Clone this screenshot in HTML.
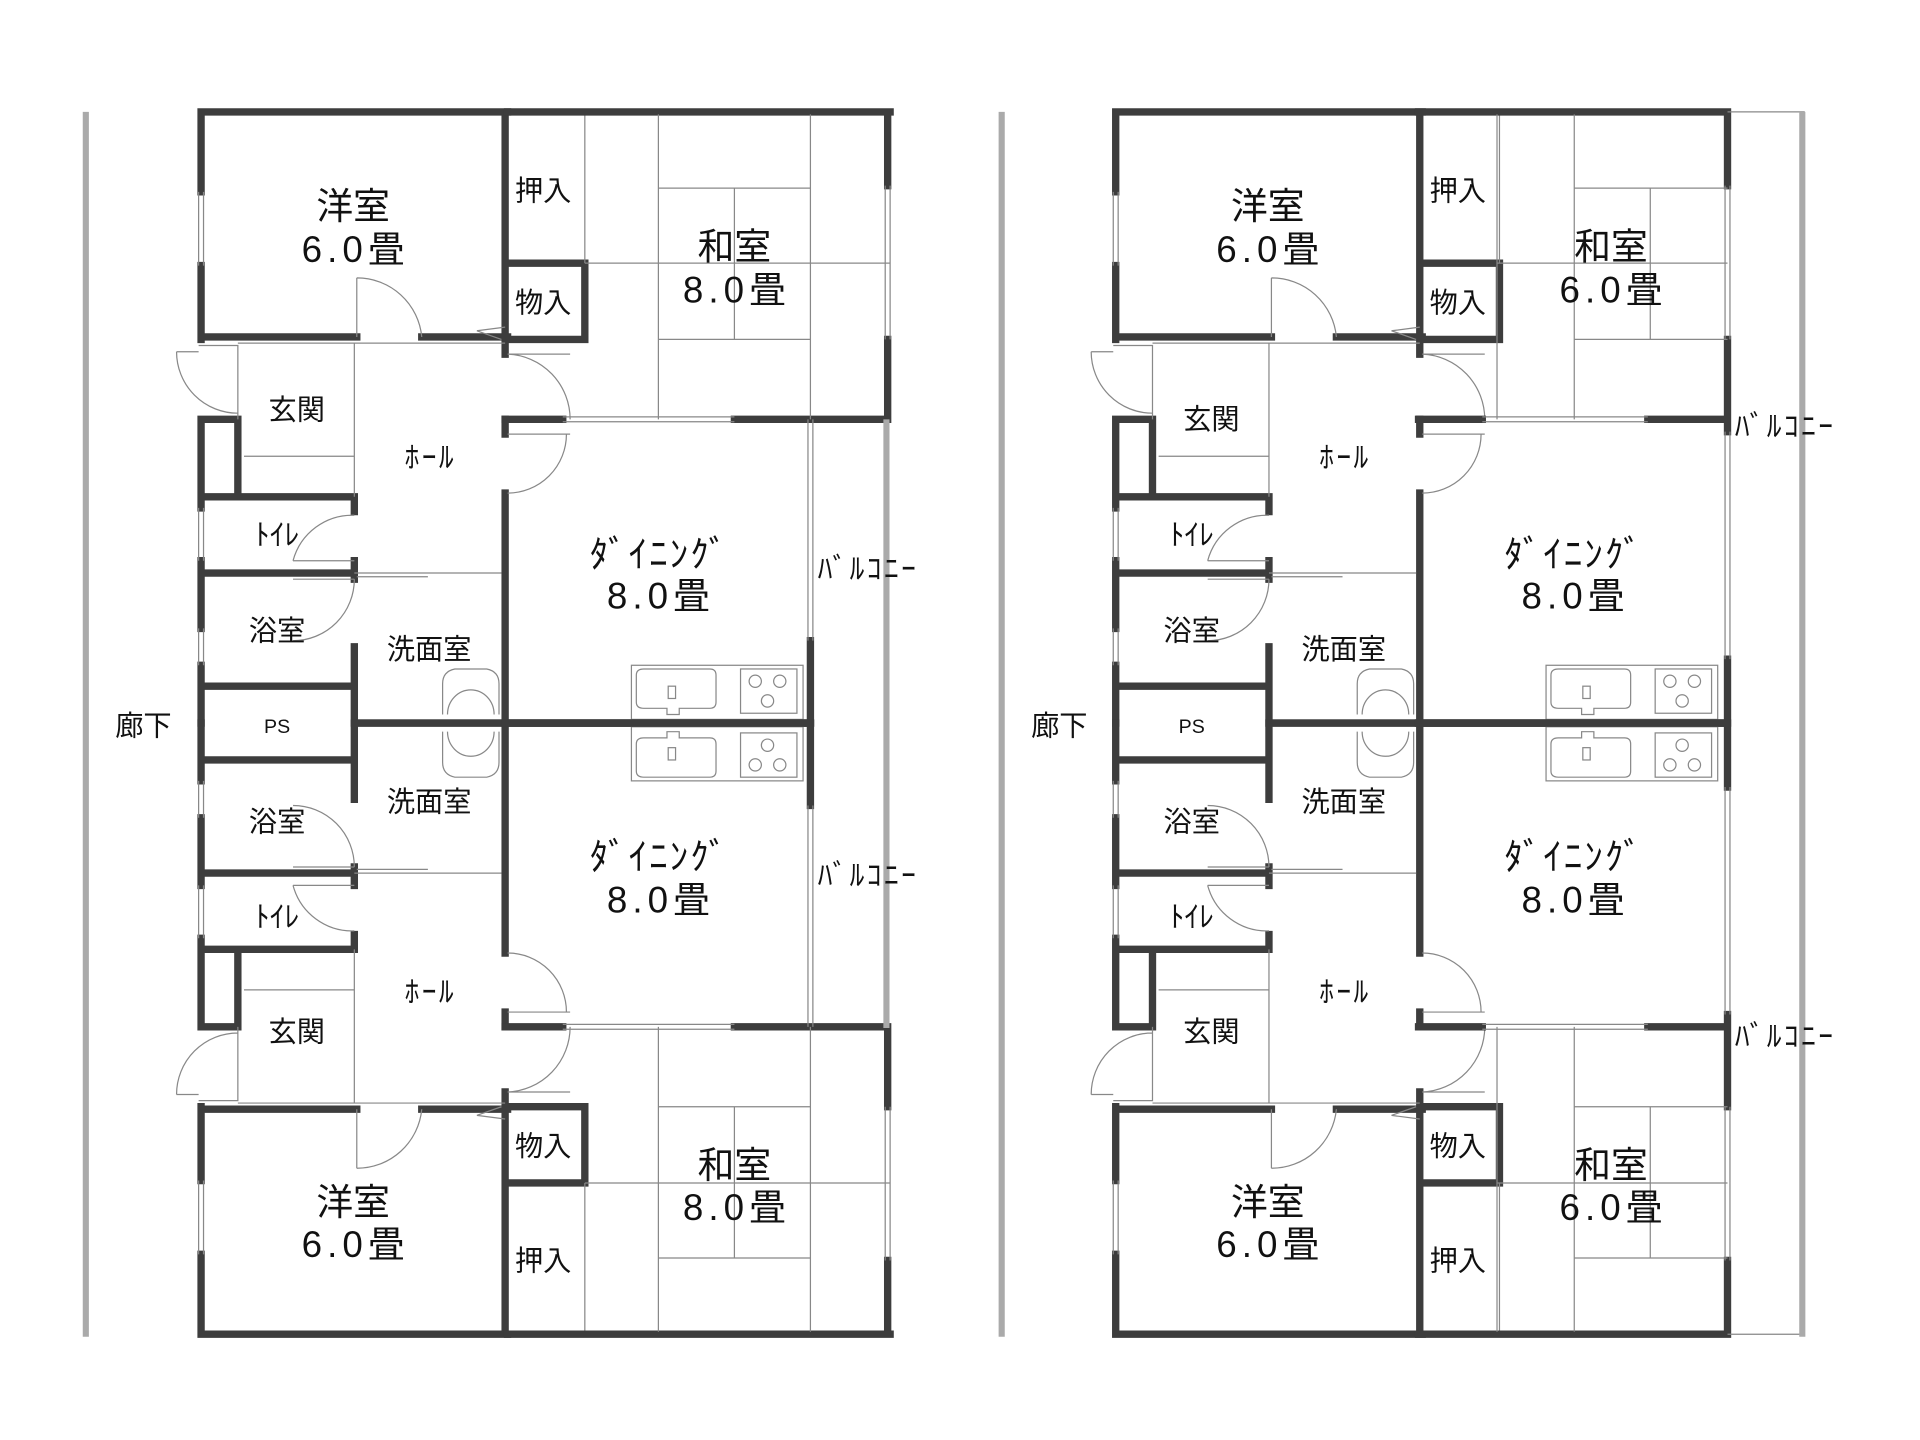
<!DOCTYPE html>
<html><head><meta charset="utf-8"><style>
html,body{margin:0;padding:0;background:#fff;}
svg{display:block;}
text{font-family:"Liberation Sans","Noto Sans CJK JP",sans-serif;fill:#111;text-anchor:middle;}
.w{stroke:#3d3d3d;stroke-width:6;fill:none;stroke-linecap:square;}
.t{stroke:#888;stroke-width:1;fill:none;}
.g{stroke:#aaa;stroke-width:5;fill:none;}
</style></head><body>
<svg width="1920" height="1440" viewBox="1 -1 1566 1171" preserveAspectRatio="none" xmlns="http://www.w3.org/2000/svg">
<defs>
<g id="half">
  <path class="w" d="M165 90 H415 M165 90 V155 M165 215 V275 M165 273 H292 M345 273 H415
    M413 90 V287 M413 340 V352 M413 400 V587
    M413 213 H478 V275 H413
    M165 340 V400 M165 340 H195 V398 M165 403 H290 V415 M290 455 V470
    M165 403 V412 M165 455 V510 M165 540 V587 M165 465 H290 M290 525 V587 M165 557 H290 M290 587 H662"/>
  <path class="t" d="M163 155 V215 M167 155 V215 M163 412 V455 M167 412 V455 M163 510 V540 M167 510 V540
    M292 273 V225 M292 225 A53 53 0 0 1 345 273
    M415 287 H466 M415 287 A53 53 0 0 1 466 340 M415 352 H466 M415 400 A48 48 0 0 0 463 352
    M163 280 H195 V340 M145 285 A50 50 0 0 0 195 335 M145 285 H163
    M200 370 H290 M290 278 V403 M195 278 H413
    M290 418 A50 50 0 0 0 240 455 M240 455 H290
    M290 470 A50 50 0 0 1 240 520 M240 470 H290
    M290 465 H410 M292 468 H350
    M413 265 L390 268 L410 275
    M478 92 V213"/>
  <path class="t" d="M362 580 V555 Q362 545 372 543 H398 Q408 545 408 555 V580 M366 580 A19 20 0 0 1 404 580"/>
  <rect class="t" x="516" y="540" width="140" height="44"/>
  <path class="t" d="M520 548 Q520 543 526 543 H580 Q585 543 585 548 V570 Q585 575 580 575 H555 V580 H545 V575 H526 Q520 575 520 570 Z"/>
  <rect class="t" x="546" y="557" width="6" height="10"/>
  <rect class="t" x="605" y="543" width="46" height="36"/>
  <circle class="t" cx="617" cy="553" r="5"/><circle class="t" cx="637" cy="553" r="5"/><circle class="t" cx="627" cy="569" r="5"/>
</g>
<g id="washiL">
  <path class="w" d="M415 90 H727 M725 90 V150 M725 275 V340 M413 340 H460 M600 340 H725 M662 520 V587 M662 587 H413"/>
  <path class="t" d="M538 92 V340 M662 92 V340 M538 152 H662 M478 213 H727 M538 275 H662 M600 152 V275 M723 150 V275 M727 150 V275
    M460 338 H600 M460 342 H600 M660 340 V520 M664 340 V520"/>
</g>
<g id="washiR">
  <path class="w" d="M1158 90 H1410 M1410 90 V150 M1410 275 V350 M1410 535 V587 M1158 340 H1210 M1345 340 H1410 M1410 587 H1158"/>
  <path class="t" d="M1222 92 V340 M1285 92 V340 M1285 152 H1410 M1222 213 H1410 M1285 275 H1410 M1347 152 V275 M1408 150 V275 M1412 150 V275
    M1210 338 H1345 M1210 342 H1345 M1408 350 V535 M1412 350 V535 M1410 90 H1473"/>
</g>
</defs>

<line class="g" x1="71" y1="90" x2="71" y2="1086"/>
<line class="g" x1="818" y1="90" x2="818" y2="1086"/>
<use href="#half"/>
<use href="#half" transform="translate(0,1174) scale(1,-1)"/>
<use href="#washiL"/>
<use href="#washiL" transform="translate(0,1174) scale(1,-1)"/>
<line class="g" x1="724" y1="340" x2="724" y2="835"/>
<use href="#half" transform="translate(746,0)"/>
<use href="#half" transform="translate(746,1174) scale(1,-1)"/>
<use href="#washiR"/>
<use href="#washiR" transform="translate(0,1174) scale(1,-1)"/>
<line class="g" x1="1471" y1="90" x2="1471" y2="1086"/>

<g font-size="30">
<text x="289" y="177">洋室</text><text x="289" y="212" textLength="84">6.0畳</text>
<text x="600" y="210">和室</text><text x="600" y="245" textLength="84">8.0畳</text>
<text x="538" y="460" font-size="30" textLength="112">ﾀﾞｲﾆﾝｸﾞ</text><text x="538" y="494" textLength="84">8.0畳</text>
<text x="538" y="706" font-size="30" textLength="112">ﾀﾞｲﾆﾝｸﾞ</text><text x="538" y="741" textLength="84">8.0畳</text>
<text x="600" y="957">和室</text><text x="600" y="991" textLength="84">8.0畳</text>
<text x="289" y="987">洋室</text><text x="289" y="1021" textLength="84">6.0畳</text>
<text x="1035" y="177">洋室</text><text x="1035" y="212" textLength="84">6.0畳</text>
<text x="1315" y="210">和室</text><text x="1315" y="245" textLength="84">6.0畳</text>
<text x="1284" y="460" font-size="30" textLength="112">ﾀﾞｲﾆﾝｸﾞ</text><text x="1284" y="494" textLength="84">8.0畳</text>
<text x="1284" y="706" font-size="30" textLength="112">ﾀﾞｲﾆﾝｸﾞ</text><text x="1284" y="741" textLength="84">8.0畳</text>
<text x="1315" y="957">和室</text><text x="1315" y="991" textLength="84">6.0畳</text>
<text x="1035" y="987">洋室</text><text x="1035" y="1021" textLength="84">6.0畳</text>
</g>
<g font-size="23">
<text x="444" y="162">押入</text><text x="444" y="253">物入</text>
<text x="444" y="939">物入</text><text x="444" y="1032">押入</text>
<text x="243" y="340">玄関</text><text x="243" y="846">玄関</text>
<text x="227" y="520">浴室</text><text x="227" y="675">浴室</text>
<text x="351" y="535">洗面室</text><text x="351" y="659">洗面室</text>
<text x="118" y="597">廊下</text>
<text x="1190" y="162">押入</text><text x="1190" y="253">物入</text>
<text x="1190" y="939">物入</text><text x="1190" y="1032">押入</text>
<text x="989" y="348">玄関</text><text x="989" y="846">玄関</text>
<text x="973" y="520">浴室</text><text x="973" y="675">浴室</text>
<text x="1097" y="535">洗面室</text><text x="1097" y="659">洗面室</text>
<text x="865" y="597">廊下</text>
</g>
<g font-size="24">
<text x="351" y="379" textLength="40">ﾎｰﾙ</text><text x="351" y="814" textLength="40">ﾎｰﾙ</text>
<text x="227" y="442" textLength="36">ﾄｲﾚ</text><text x="227" y="753" textLength="36">ﾄｲﾚ</text>
<text x="227" y="595" font-size="16">PS</text>
<text x="708" y="470" textLength="80">ﾊﾞﾙｺﾆｰ</text><text x="708" y="719" textLength="80">ﾊﾞﾙｺﾆｰ</text>
<text x="1097" y="379" textLength="40">ﾎｰﾙ</text><text x="1097" y="814" textLength="40">ﾎｰﾙ</text>
<text x="973" y="442" textLength="36">ﾄｲﾚ</text><text x="973" y="753" textLength="36">ﾄｲﾚ</text>
<text x="973" y="595" font-size="16">PS</text>
<text x="1456" y="354" textLength="80">ﾊﾞﾙｺﾆｰ</text><text x="1456" y="850" textLength="80">ﾊﾞﾙｺﾆｰ</text>
</g>
</svg>
</body></html>
